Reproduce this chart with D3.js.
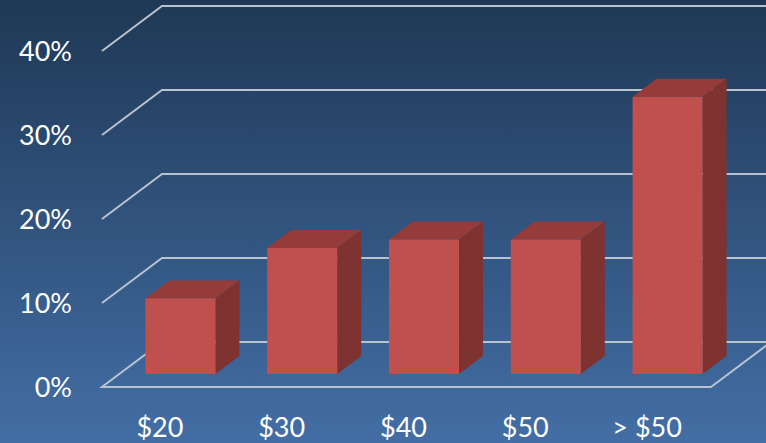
<!DOCTYPE html>
<html><head><meta charset="utf-8">
<script src="https://cdn.jsdelivr.net/npm/d3@7/dist/d3.min.js"></script>
<style>html,body{margin:0;padding:0;background:#203a58}svg{display:block}</style>
</head><body><script>
const categories = ["$20","$30","$40","$50","> $50"];
const values = [9,15,16,16,33];
const yTicks = [0,10,20,30,40];

const W=766,H=443;
const svg=d3.select("body").append("svg").attr("width",W).attr("height",H);
const grad=svg.append("defs").append("linearGradient").attr("id","bg").attr("x1",0).attr("x2",0).attr("y1",0).attr("y2",1);
grad.append("stop").attr("offset",0).attr("stop-color","#1f3855");
grad.append("stop").attr("offset",1).attr("stop-color","#436ea5");
svg.append("rect").attr("width",W).attr("height",H).attr("fill","url(#bg)");

const depthX=60,depthY=45,barDepthX=24,barDepthY=18,barInsetX=17.5,barInsetY=13;
const x=d3.scaleBand().domain(categories).range([102,711]).paddingInner(0.425).paddingOuter(0.2125);
const y=d3.scaleLinear().domain([0,40]).range([387,51]);

// gridlines
const lineCol="#b9c3cf";
const grid=svg.append("g").attr("fill","none").attr("stroke",lineCol).attr("stroke-width",2);
yTicks.forEach(t=>{
  const pts = t===0
    ? [[x.range()[1]+depthX,y(0)-depthY],[x.range()[0]+depthX,y(0)-depthY],[x.range()[0],y(0)],[x.range()[1],y(0)],[x.range()[1]+depthX,y(0)-depthY]]
    : [[x.range()[0],y(t)],[x.range()[0]+depthX,y(t)-depthY],[x.range()[1]+depthX,y(t)-depthY]];
  grid.append("path").attr("d",d3.line()(pts));
});

// bars
const bars=svg.append("g").selectAll("g").data(categories).join("g");
const bx=c=>x(c)+barInsetX, bw=x.bandwidth();
const by=(i)=>y(values[i])-barInsetY, by0=y(0)-barInsetY;
bars.append("path").attr("fill","#953b39").attr("d",(c,i)=>d3.line()([[bx(c),by(i)],[bx(c)+barDepthX,by(i)-barDepthY],[bx(c)+bw+barDepthX,by(i)-barDepthY],[bx(c)+bw,by(i)]])+"Z");
bars.append("path").attr("fill","#7e3331").attr("d",(c,i)=>d3.line()([[bx(c)+bw,by(i)],[bx(c)+bw+barDepthX,by(i)-barDepthY],[bx(c)+bw+barDepthX,by0-barDepthY],[bx(c)+bw,by0]])+"Z");
bars.append("rect").attr("fill","#c0504d").attr("x",c=>bx(c)).attr("width",bw).attr("y",(c,i)=>by(i)).attr("height",(c,i)=>by0-by(i));

// labels
const font="Lato, 'Open Sans', sans-serif";
svg.append("g").selectAll("text").data(yTicks).join("text")
  .attr("x",72).attr("y",t=>y(t)+10).attr("text-anchor","end")
  .attr("fill","#fff").attr("font-family",font).attr("font-size",27).text(t=>t+"%");
svg.append("g").selectAll("text").data(categories).join("text")
  .attr("x",c=>x(c)+x.bandwidth()/2-3).attr("y",437).attr("text-anchor","middle")
  .attr("fill","#fff").attr("font-family",font).attr("font-size",27).text(c=>c);
</script></body></html>
